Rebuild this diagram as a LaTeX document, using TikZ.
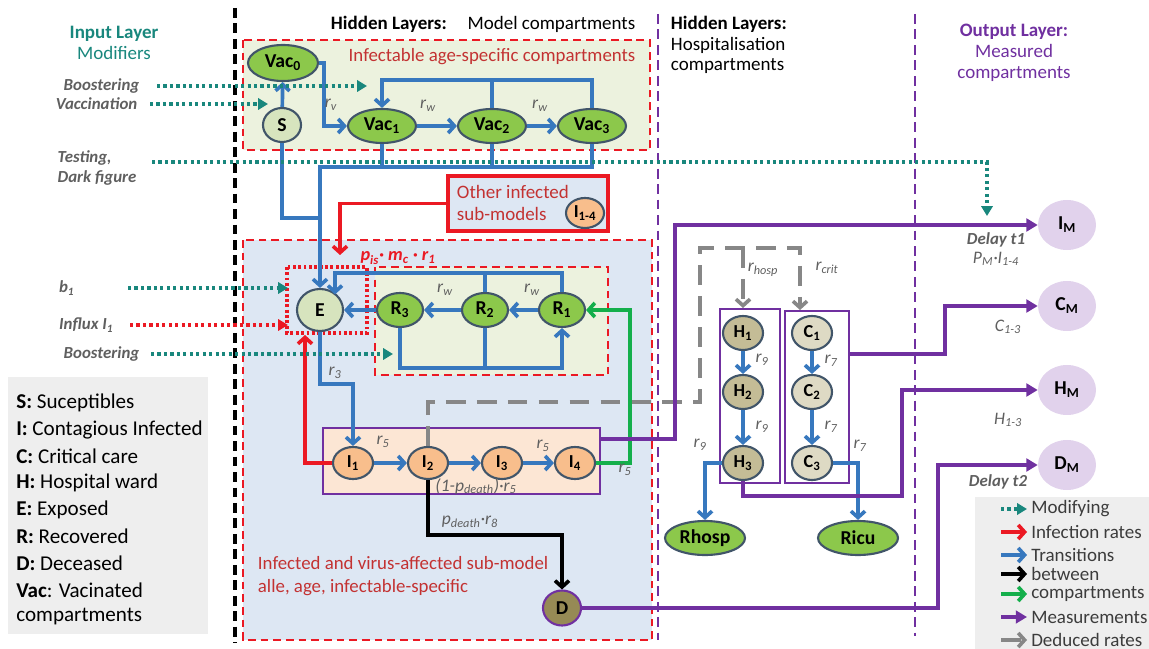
\documentclass[tikz,border=0pt]{standalone}
\usepackage{fontspec}
\setmainfont{Carlito}
\usetikzlibrary{shapes.geometric,arrows.meta,calc}

% colours
\definecolor{modteal}{RGB}{25,135,125}
\definecolor{infred}{RGB}{235,25,35}
\definecolor{txtred}{RGB}{195,50,50}
\definecolor{trblue}{RGB}{55,120,190}
\definecolor{mspurple}{RGB}{112,48,160}
\definecolor{dedgray}{RGB}{135,135,135}
\definecolor{rcgreen}{RGB}{20,175,75}
\definecolor{nodeedge}{RGB}{65,85,105}
\definecolor{vacgreen}{RGB}{140,200,75}
\definecolor{sgreen}{RGB}{215,228,190}
\definecolor{paleg}{RGB}{236,242,222}
\definecolor{paleblue}{RGB}{221,231,243}
\definecolor{peach}{RGB}{252,230,212}
\definecolor{icol}{RGB}{248,190,140}
\definecolor{hcol}{RGB}{196,188,150}
\definecolor{ccol}{RGB}{222,218,196}
\definecolor{dcol}{RGB}{150,138,85}
\definecolor{mscol}{RGB}{225,210,236}
\definecolor{leggray}{RGB}{238,238,238}
\definecolor{lblgray}{RGB}{95,95,95}
\definecolor{legtxt}{RGB}{60,60,60}

\newcommand{\rlab}[1]{\textit{r\textsubscript{#1}}}

\tikzset{
  % compartments
  comp/.style={ellipse, draw=nodeedge, line width=1.5pt, inner sep=0pt, text=black,
    font=\fontsize{14}{16}\selectfont\bfseries},
  vacnode/.style={comp, fill=vacgreen, minimum width=1.7cm, minimum height=0.85cm},
  snode/.style={comp, fill=sgreen, minimum width=0.95cm, minimum height=0.85cm},
  enode/.style={comp, fill=sgreen, minimum width=1.15cm, minimum height=1.05cm},
  rnode/.style={comp, fill=vacgreen, minimum width=1.15cm, minimum height=0.85cm},
  inode/.style={comp, fill=icol, minimum width=1cm, minimum height=0.8cm, font=\fontsize{13}{15}\selectfont\bfseries},
  hnode/.style={comp, fill=hcol, minimum width=1cm, minimum height=0.85cm, font=\fontsize{13}{15}\selectfont\bfseries},
  cnode/.style={hnode, fill=ccol},
  dnode/.style={comp, fill=dcol, draw=mspurple, minimum width=0.95cm, minimum height=0.875cm},
  recnode/.style={comp, fill=vacgreen, minimum width=2cm, minimum height=0.85cm},
  msnode/.style={ellipse, fill=mscol, inner sep=0pt, minimum width=1.45cm, minimum height=1.25cm,
    font=\fontsize{14}{16}\selectfont\bfseries},
  % boxes
  redbox/.style={draw=infred, line width=1.6pt, dash pattern=on 5.5pt off 3.5pt},
  reddots/.style={draw=infred, line width=2.4pt, dash pattern=on 2pt off 1.8pt},
  sepline/.style={line width=2.2pt, dash pattern=on 7pt off 4pt},
  compbox/.style={draw=mspurple, line width=1.4pt},
  % connectors
  transline/.style={draw=trblue, line width=2.6pt},
  transarrow/.style={transline, -{Straight Barb[length=4.5pt,width=10pt]}},
  infarrow/.style={draw=infred, line width=2.6pt, -{Straight Barb[length=4.5pt,width=10pt]}},
  deatharrow/.style={draw=black, line width=2.6pt, -{Straight Barb[length=4.5pt,width=10pt]}},
  recarrow/.style={draw=rcgreen, line width=2.6pt, -{Straight Barb[length=4.5pt,width=10pt]}},
  measarrow/.style={draw=mspurple, line width=2.6pt, -{Triangle[length=8pt,width=9pt]}},
  dedarrow/.style={draw=dedgray, line width=2.6pt, dash pattern=on 14pt off 8pt, -{Straight Barb[length=4.5pt,width=10pt]}},
  modarrow/.style={draw=modteal, line width=2.4pt, dash pattern=on 2.2pt off 2.4pt, -{Triangle[length=7pt,width=8pt]}},
  infdots/.style={modarrow, draw=infred},
  % texts
  rlabel/.style={font=\fontsize{12.5}{14}\selectfont, text=lblgray, inner sep=1pt},
  inlabel/.style={font=\fontsize{12}{14}\selectfont\bfseries\itshape, text=lblgray, inner sep=1pt},
  boxtitle/.style={font=\fontsize{13.4}{16}\selectfont, text=txtred},
  headtext/.style={font=\fontsize{13.5}{15}\selectfont},
  legtext/.style={font=\fontsize{13.5}{15}\selectfont, text=legtxt, inner sep=0pt, anchor=west},
}

\begin{document}
\begin{tikzpicture}[x=0.025cm, y=-0.025cm]
    \useasboundingbox (0,0) rectangle (1149,649);

    % Layer borders
    \draw[sepline, black] (235,8) -- (235,643);
    \draw[sepline, mspurple, line width=1.5pt] (658,14) -- (658,640);
    \draw[sepline, mspurple, line width=1.5pt] (915,14) -- (915,636);

    % Headings
    \node[headtext, text=modteal, align=center] (inhead) at (114,43) {\textbf{Input Layer}\\Modifiers};
    \node[headtext, anchor=west] (hidhead) at (326,24) {\textbf{Hidden Layers:}\hspace{1.1em}Model compartments};
    \node[headtext, anchor=west, align=left, font=\fontsize{13.5}{14.5}\selectfont] (hosphead) at (666,45) {\textbf{Hidden Layers:}\\Hospitalisation\\compartments};
    \node[headtext, text=mspurple, align=center] (outhead) at (1014,53) {\textbf{Output Layer:}\\Measured\\compartments};

    % Boxes
    \draw[redbox, fill=paleg] (243,40) rectangle (650,150); % infectable compartments
    \draw[redbox, fill=paleblue] (243,240) rectangle (652,640); % infected sub-model
    \draw[redbox, fill=paleg] (375,267) rectangle (608,375); % recovered
    \draw[reddots] (287,267) rectangle (367,333); % around E
    \node[draw=infred, line width=2.6pt, fill=paleblue, minimum width=4cm, minimum height=1.375cm] (othbox) at (528,203.5) {};
    \node[compbox, fill=peach, minimum width=6.925cm, minimum height=1.65cm] (ibox) at (461.5,461) {};
    \node[compbox, fill=white, minimum width=1.5cm, minimum height=4.35cm] (hbox) at (750,396) {};
    \node[compbox, fill=white, minimum width=1.6cm, minimum height=4.3cm] (cbox) at (817,397) {};

    % Box titles
    \node[boxtitle] (inftitle) at (492,57) {Infectable age-specific compartments};
    \node[boxtitle, anchor=west, align=left, font=\fontsize{13.5}{16}\selectfont] (othtext) at (452,203) {Other infected\\sub-models};
    \node[boxtitle, anchor=west, align=left] (subtext) at (253,576) {Infected and virus-affected sub-model\\alle, age, infectable-specific};

    % Compartments
    \node[vacnode, minimum width=1.75cm, minimum height=0.9cm] (vac0) at (283,63) {Vac\textsubscript{0}};
    \node[snode] (S) at (282,125) {S};
    \node[vacnode] (vac1) at (382,126) {Vac\textsubscript{1}};
    \node[vacnode] (vac2) at (492,126) {Vac\textsubscript{2}};
    \node[vacnode] (vac3) at (592,126) {Vac\textsubscript{3}};
    \node[inode, minimum width=0.95cm, minimum height=0.75cm] (I14) at (585,213) {I\textsubscript{1-4}};
    \node[enode] (E) at (320,310) {E};
    \node[rnode] (R3) at (400,310) {R\textsubscript{3}};
    \node[rnode] (R2) at (485,310) {R\textsubscript{2}};
    \node[rnode] (R1) at (562,310) {R\textsubscript{1}};
    \node[inode] (I1) at (353,463) {I\textsubscript{1}};
    \node[inode] (I2) at (428,463) {I\textsubscript{2}};
    \node[inode] (I3) at (502,463) {I\textsubscript{3}};
    \node[inode] (I4) at (575,463) {I\textsubscript{4}};
    \node[dnode] (D) at (562,608) {D};
    \node[hnode] (H1) at (743,333) {H\textsubscript{1}};
    \node[hnode] (H2) at (743,392) {H\textsubscript{2}};
    \node[hnode] (H3) at (743,463) {H\textsubscript{3}};
    \node[cnode] (C1) at (812,333) {C\textsubscript{1}};
    \node[cnode] (C2) at (812,392) {C\textsubscript{2}};
    \node[cnode] (C3) at (812,463) {C\textsubscript{3}};
    \node[recnode] (Rhosp) at (705,538) {Rhosp};
    \node[recnode] (Ricu) at (858,538) {Ricu};
    \node[msnode] (IM) at (1067,225) {I\textsubscript{M}};
    \node[msnode] (CM) at (1067,306) {C\textsubscript{M}};
    \node[msnode] (HM) at (1067,390) {H\textsubscript{M}};
    \node[msnode] (DM) at (1067,465) {D\textsubscript{M}};

    % Junctions
    \coordinate (vactop) at (0,80);
    \coordinate (vacbus) at (0,167);
    \coordinate (sbus) at (0,218);
    \coordinate (redtip) at (340,255);
    \coordinate (efb) at (335,273);
    \coordinate (rbot) at (0,368);
    \coordinate (ej) at (0,384);
    \coordinate (eredtip) at (305,335);
    \coordinate (gx) at (630,0);
    \coordinate (dj) at (0,535);
    \coordinate (dedcorner) at (700,402);
    \coordinate (dedh) at (743,248);
    \coordinate (dedc) at (800,248);
    \coordinate (imj) at (675,439);
    \coordinate (cmj) at (945,354);
    \coordinate (hmj) at (902,496);
    \coordinate (dmj) at (938,465);

    % Vaccination transitions
    \draw[transarrow] (S) -- (vac0);
    \draw[transarrow] (vac0.east) -- ++(5,0) |- (vac1.west);
    \draw[transarrow] (vac1) -- (vac2);
    \draw[transarrow] (vac2) -- (vac3);
    \draw[transarrow] (vac3.north) -- (vac3.north |- vactop) -| (vac1.north);
    \draw[transline] (vac2.north) -- (vac2.north |- vactop);
    \draw[transline] (vac1.south) -- (vac1.south |- vacbus);
    \draw[transline] (vac2.south) -- (vac2.south |- vacbus);
    \draw[transarrow] (vac3.south) |- (E.north |- vacbus) -- (E.north);
    \draw[transline] (S.south) |- (E.north |- sbus);

    % Infection and recovery
    \draw[infarrow] (othbox.west) -| (redtip);
    \draw[transarrow] (R1) -- (R2);
    \draw[transarrow] (R2) -- (R3);
    \draw[transarrow] (R3) -- (E);
    \draw[transarrow] (R1.north) |- (efb) -- (efb |- E.north east);
    \draw[transline] (R2.north) -- (R2.north |- efb);
    \draw[transarrow] (R3.south) |- (R1.south |- rbot) -- (R1.south);
    \draw[transline] (R2.south) -- (R2.south |- rbot);
    \draw[transarrow] (E.south) |- (I1.north |- ej) -- (I1.north);
    \draw[infarrow] (I1.west) -| (eredtip);
    \draw[transarrow] (I1) -- (I2);
    \draw[transarrow] (I2) -- (I3);
    \draw[transarrow] (I3) -- (I4);
    \draw[recarrow] (I4.east) -- (I4.east -| gx) |- (R1.east);
    \draw[deatharrow] (I2.south) |- (D.north |- dj) -- (D.north);

    % Hospitalisation
    \draw[dedarrow] (I2.north) |- (dedcorner) |- (dedc) -- (dedc |- cbox.north);
    \draw[dedarrow] (dedh) -- (dedh |- hbox.north);
    \draw[transarrow] (H1) -- (H2);
    \draw[transarrow] (H2) -- (H3);
    \draw[transarrow] (C1) -- (C2);
    \draw[transarrow] (C2) -- (C3);
    \draw[transarrow] (H3.west) -| (Rhosp.north);
    \draw[transarrow] (C3.east) -| (Ricu.north);

    % Measurements
    \draw[measarrow] (ibox.east |- imj) -- (imj) |- (IM.west);
    \draw[measarrow] (cbox.east |- cmj) -- (cmj) |- (CM.west);
    \draw[measarrow] (H3.south) |- (hmj) |- (HM.west);
    \draw[measarrow] (D.east) -| (dmj) -- (DM.west);

    % Rates
    \node[rlabel] (rv) at (331,105) {\rlab{v}};
    \node[rlabel] (rw1) at (428,106) {\rlab{w}};
    \node[rlabel] (rw2) at (540,106) {\rlab{w}};
    \node[font=\fontsize{13}{15}\selectfont\bfseries\itshape, text=infred, inner sep=1pt] (pis) at (398,258) {p\textsubscript{is}· m\textsubscript{c} · r\textsubscript{1}};
    \node[rlabel] (rw3) at (445,290) {\rlab{w}};
    \node[rlabel] (rw4) at (532,290) {\rlab{w}};
    \node[rlabel] (r3) at (335,373) {\rlab{3}};
    \node[rlabel] (r5a) at (383,442) {\rlab{5}};
    \node[rlabel] (r5b) at (543,446) {\rlab{5}};
    \node[rlabel] (r5c) at (625,470) {\rlab{5}};
    \node[rlabel] (pdr5) at (476,486) {\textit{(1-p\textsubscript{death})·r\textsubscript{5}}};
    \node[rlabel] (pdr8) at (470,522) {\textit{p\textsubscript{death}·r\textsubscript{8}}};
    \node[rlabel] (rhosp) at (763,270) {\rlab{hosp}};
    \node[rlabel] (rcrit) at (827,268) {\rlab{crit}};
    \node[rlabel] (r9a) at (762,360) {\rlab{9}};
    \node[rlabel] (r9b) at (762,427) {\rlab{9}};
    \node[rlabel] (r7a) at (831,361) {\rlab{7}};
    \node[rlabel] (r7b) at (831,427) {\rlab{7}};
    \node[rlabel] (r9c) at (700,445) {\rlab{9}};
    \node[rlabel] (r7c) at (860,446) {\rlab{7}};

    % Output labels
    \node[inlabel] (delay1) at (996,240) {Delay t1};
    \node[rlabel] (pmlab) at (996,259) {\textit{P\textsubscript{M}·I\textsubscript{1-4}}};
    \node[rlabel] (clab) at (1008,327) {\textit{C\textsubscript{1-3}}};
    \node[rlabel] (hlab) at (1008,420) {\textit{H\textsubscript{1-3}}};
    \node[inlabel] (delay2) at (998,482) {Delay t2};

    % Input modifiers
    \node[inlabel, anchor=east] (lbboost) at (141,86) {Boostering};
    \node[inlabel, anchor=east] (lbvacc) at (139,104) {Vaccination};
    \node[inlabel, anchor=west, align=left] (lbtest) at (56,168) {Testing,\\Dark figure};
    \node[inlabel, anchor=east] (lbb) at (76,288) {b\textsubscript{1}};
    \node[inlabel, anchor=east] (lbinflux) at (115,325) {Influx I\textsubscript{1}};
    \node[inlabel, anchor=east] (lbboost2) at (141,354) {Boostering};
    \coordinate (boosttip) at (367,86);
    \coordinate (vacctip) at (268,104);
    \coordinate (testrow) at (152,162);
    \coordinate (testtip) at (987,216);
    \coordinate (btip) at (288,288);
    \coordinate (influxtip) at (288,325);
    \coordinate (boost2tip) at (393,354);
    \draw[modarrow] (lbboost.east) ++(16,0) -- (boosttip);
    \draw[modarrow] (lbvacc.east) ++(11,0) -- (vacctip);
    \draw[modarrow] (testrow) -| (testtip);
    \draw[modarrow] (lbb.east) ++(52,0) -- (btip);
    \draw[infdots] (lbinflux.east) ++(15,0) -- (influxtip);
    \draw[modarrow] (lbboost2.east) ++(10,0) -- (boost2tip);

    % Legend of compartments
    \fill[leggray] (8,377) rectangle (208,634);
    \foreach \txt [count=\k] in {{\textbf{S:} Suceptibles}, {\textbf{I:} Contagious Infected},
        {\textbf{C:} Critical care}, {\textbf{H:} Hospital ward}, {\textbf{E:} Exposed},
        {\textbf{R:} Recovered}, {\textbf{D:} Deceased}, {\textbf{Vac}: Vacinated}, {compartments}} {
        \node[legtext, text=black, font=\fontsize{15}{17}\selectfont] (key\k) at (16,{376.3+26.7*\k}) {\txt};
    }

    % Legend of connectors
    \fill[leggray] (975,497) rectangle (1149,649);
    \foreach \y/\sty/\txt [count=\k] in {509/modarrow/Modifying, 532/infarrow/Infection rates,
        555/transarrow/Transitions, 574/deatharrow/between, 594/recarrow/compartments,
        617/measarrow/Measurements, 640/dedarrow/Deduced rates} {
        \node[legtext] (leg\k) at (1031,\y) {\txt};
        \draw[\sty] ([xshift=-0.75cm]leg\k.west) -- ([xshift=-0.1cm]leg\k.west);
    }
\end{tikzpicture}
\end{document}
